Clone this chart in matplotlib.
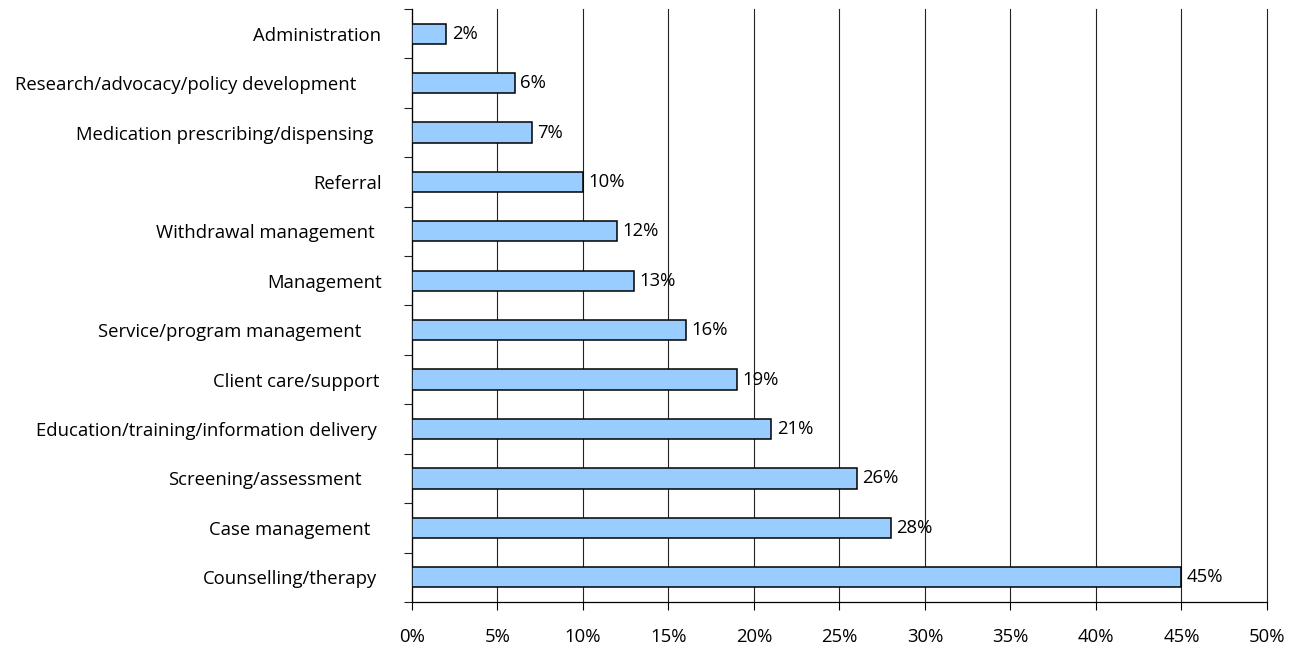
import numpy as np
import matplotlib.pyplot as plt
from matplotlib.ticker import FixedLocator, FuncFormatter
from matplotlib.transforms import ScaledTranslation

plt.rcParams['font.family'] = ['Open Sans', 'DejaVu Sans']

activities = [
    "Administration",
    "Research/advocacy/policy development",
    "Medication prescribing/dispensing",
    "Referral",
    "Withdrawal management",
    "Management",
    "Service/program management",
    "Client care/support",
    "Education/training/information delivery",
    "Screening/assessment",
    "Case management",
    "Counselling/therapy",
]
share = [2, 6, 7, 10, 12, 13, 16, 19, 21, 26, 28, 45]

# extra gap (px) between each label and the axis
label_gap = [0, 25, 8, 0, 7, 0, 20, 2, 5, 20, 11, 4]

fs = 13.3

fig = plt.figure(figsize=(12.98, 6.47), dpi=100)
ax = fig.add_axes([0.3174, 0.0696, 0.6587, 0.9165])

y = np.arange(len(activities))
ax.barh(y, share, height=0.41, color='#99ccff', edgecolor='black', linewidth=1.1, zorder=3)

for yi, v in zip(y, share):
    ax.annotate(f"{v}%", (v, yi), xytext=(4, 0), textcoords='offset points',
                va='center', ha='left', fontsize=fs, zorder=4)

ax.set_xlim(0, 50)
ax.set_ylim(len(activities) - 0.5, -0.5)
ax.set_xticks(np.arange(0, 51, 5))
ax.xaxis.set_major_formatter(FuncFormatter(lambda x, _: f"{x:.0f}%"))
ax.tick_params(axis='x', length=6, width=0.8, labelsize=fs, pad=13, color='black')
ax.grid(axis='x', color='#222222', linewidth=0.8, zorder=0)
for gl in ax.get_xgridlines():
    gl.set_clip_on(False)

ax.set_yticks(y)
ax.set_yticklabels(activities, fontsize=fs)
ax.yaxis.set_minor_locator(FixedLocator(np.arange(-0.5, len(activities), 1)))
ax.tick_params(axis='y', which='major', length=0, pad=22)
ax.tick_params(axis='y', which='minor', length=6, width=0.8, color='#222222')
for lab, gap in zip(ax.get_yticklabels(), label_gap):
    lab.set_transform(lab.get_transform() + ScaledTranslation(-gap / 100, 0, fig.dpi_scale_trans))

for side in ['top', 'right']:
    ax.spines[side].set_visible(False)
ax.spines['left'].set_linewidth(0.9)
ax.spines['bottom'].set_linewidth(0.9)

fig.savefig('out.png', dpi=100)
